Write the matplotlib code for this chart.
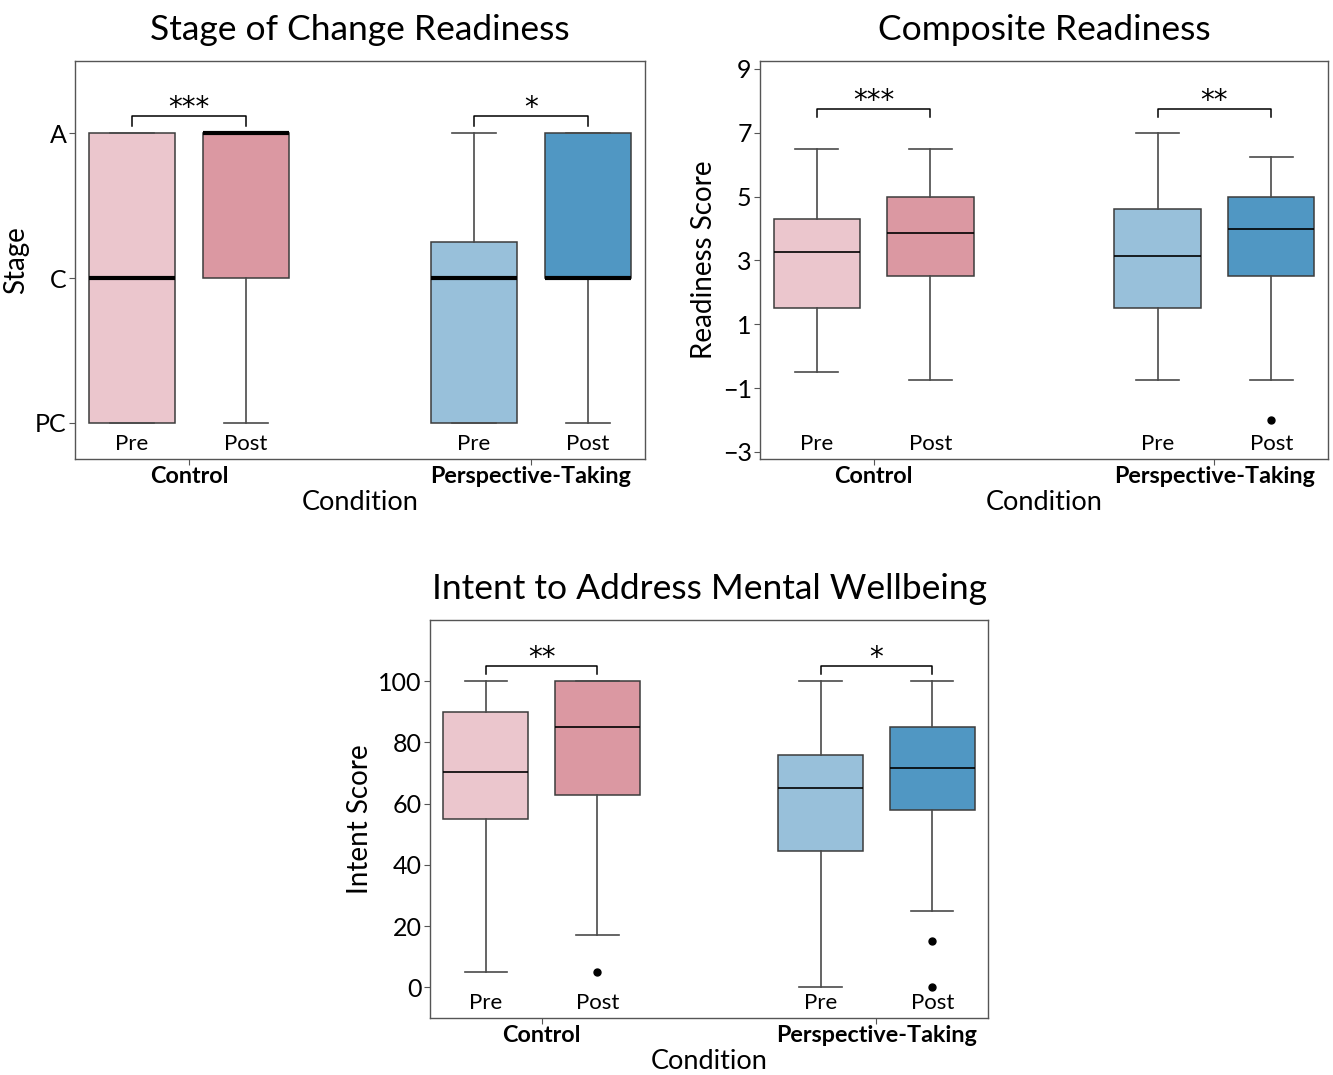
import matplotlib
matplotlib.use("Agg")
import matplotlib.pyplot as plt
import matplotlib.transforms as mtransforms

plt.rcParams['font.family'] = ['Lato', 'DejaVu Sans']

# box positions: Control Pre/Post, Perspective-Taking Pre/Post
positions = [0, 1, 3, 4]
phase_labels = ['Pre', 'Post', 'Pre', 'Post']
conditions = ['Control', 'Perspective-Taking']
colors = ['#EBC6CD', '#DB98A2', '#98C0DA', '#5097C3']

# Stage of change (0=PC, 1=C, 2=A)
stage_q1 = [0, 1, 0, 1]
stage_med = [1, 2, 1, 1]
stage_q3 = [2, 2, 1.25, 2]
stage_lo = [0, 0, 0, 0]
stage_hi = [2, 2, 2, 2]
stage_fliers = [[], [], [], []]
stage_ticks = [0, 1, 2]
stage_ticklabels = ['PC', 'C', 'A']
stage_sig = ['***', '*']

# Composite readiness
comp_q1 = [1.5, 2.5, 1.5, 2.5]
comp_med = [3.25, 3.875, 3.125, 4.0]
comp_q3 = [4.31, 5.0, 4.625, 5.0]
comp_lo = [-0.5, -0.75, -0.75, -0.75]
comp_hi = [6.5, 6.5, 7.0, 6.25]
comp_fliers = [[], [], [], [-2.0]]
comp_ticks = [-3, -1, 1, 3, 5, 7, 9]
comp_sig = ['***', '**']

# Intent to address mental wellbeing
intent_q1 = [55, 63, 44.5, 58]
intent_med = [70.5, 85, 65, 71.5]
intent_q3 = [90, 100, 76, 85]
intent_lo = [5, 17, 0, 25]
intent_hi = [100, 100, 100, 100]
intent_fliers = [[], [5], [], [15, 0]]
intent_ticks = [0, 20, 40, 60, 80, 100]
intent_sig = ['**', '*']


def draw_panel(ax, q1, med, q3, lo, hi, fliers, title, ylabel, ylim,
               yticks, sig, bracket_y, leg_y, med_lw=1.2, yticklabels=None):
    stats = []
    for i in range(len(positions)):
        stats.append(dict(med=med[i], q1=q1[i], q3=q3[i], whislo=lo[i],
                          whishi=hi[i], fliers=fliers[i]))
    bp = ax.bxp(stats, positions=positions, widths=0.76, patch_artist=True,
                boxprops=dict(edgecolor='#3c3c3c', linewidth=1.1),
                whiskerprops=dict(color='#4a4a4a', linewidth=1.2),
                capprops=dict(color='#4a4a4a', linewidth=1.2),
                medianprops=dict(color='black', linewidth=med_lw),
                flierprops=dict(marker='o', markerfacecolor='black',
                                markeredgecolor='black', markersize=5))
    for patch, c in zip(bp['boxes'], colors):
        patch.set_facecolor(c)

    ax.set_xlim(-0.5, 4.5)
    ax.set_ylim(*ylim)
    ax.set_yticks(yticks)
    if yticklabels is not None:
        ax.set_yticklabels(yticklabels)
    ax.tick_params(axis='y', labelsize=18, length=4, pad=2, color='#555555')
    ax.set_xticks([0.5, 3.5])
    ax.set_xticklabels(conditions, fontsize=16.8, fontweight='bold')
    ax.tick_params(axis='x', length=4, pad=1, color='#555555')
    for s in ax.spines.values():
        s.set_color('#555555')
        s.set_linewidth(1.0)

    trans = mtransforms.blended_transform_factory(ax.transData, ax.transAxes)
    for p, lab in zip(positions, phase_labels):
        ax.text(p, 0.038, lab, transform=trans, ha='center', va='center',
                fontsize=16)

    for (a, b), s in zip([(0, 1), (3, 4)], sig):
        ax.plot([a, a, b, b], [leg_y, bracket_y, bracket_y, leg_y],
                color='black', linewidth=1.1)
        ax.text((a + b) / 2, bracket_y, s, ha='center', va='baseline',
                fontsize=20, family='DejaVu Sans')

    ax.set_title(title, fontsize=25.5, pad=15)
    ax.set_ylabel(ylabel, fontsize=20)
    ax.set_xlabel('Condition', fontsize=19.5, labelpad=2)


fig = plt.figure(figsize=(13.33, 10.75), dpi=100)
W, H = 1333, 1075
ax1 = fig.add_axes([75 / W, (H - 459) / H, 570 / W, 398 / H])
ax2 = fig.add_axes([760 / W, (H - 459) / H, 568 / W, 398 / H])
ax3 = fig.add_axes([430 / W, (H - 1018) / H, 558 / W, 398 / H])

draw_panel(ax1, stage_q1, stage_med, stage_q3, stage_lo, stage_hi, stage_fliers,
           'Stage of Change Readiness', 'Stage', (-0.25, 2.5), stage_ticks,
           stage_sig, 2.12, 2.05, med_lw=3, yticklabels=stage_ticklabels)
draw_panel(ax2, comp_q1, comp_med, comp_q3, comp_lo, comp_hi, comp_fliers,
           'Composite Readiness', 'Readiness Score', (-3.22, 9.25), comp_ticks,
           comp_sig, 7.75, 7.5)
draw_panel(ax3, intent_q1, intent_med, intent_q3, intent_lo, intent_hi, intent_fliers,
           'Intent to Address Mental Wellbeing', 'Intent Score', (-10, 120),
           intent_ticks, intent_sig, 105, 102.5)

fig.savefig('out.png', dpi=100)
